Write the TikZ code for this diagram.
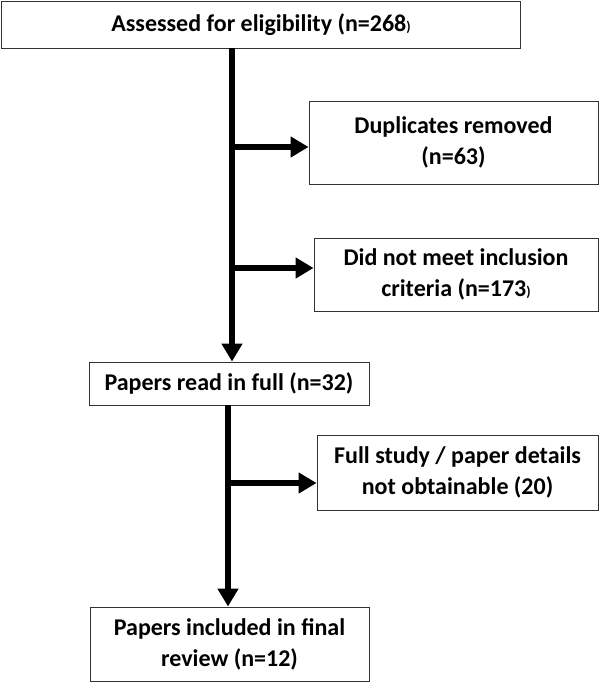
\documentclass[tikz,border=0pt]{standalone}
\usepackage{fontspec}
\setmainfont{Carlito}
\usetikzlibrary{arrows.meta}
\begin{document}
\begin{tikzpicture}[x=1pt, y=-1pt,
        box/.style={draw=black!80, line width=0.9pt, align=center, inner sep=0pt,
            font=\fontsize{24}{31}\selectfont\bfseries},
        arr/.style={line width=6pt, -{Triangle[length=18pt, width=20pt]}}]
    \useasboundingbox (0,0) rectangle (600,683);

    \node[box, minimum width=519pt, minimum height=47pt] at (261, 24.5)   (assessed) {Assessed for eligibility (n=268{\fontsize{14}{14}\selectfont)}};
    \node[box, minimum width=289pt, minimum height=83pt] at (453.5, 142.5) (dup)      {Duplicates removed\\(n=63)};
    \node[box, minimum width=284pt, minimum height=73pt] at (456, 274.5)  (criteria) {Did not meet inclusion\\criteria (n=173{\fontsize{14}{14}\selectfont)}};
    \node[box, minimum width=280pt, minimum height=43pt] at (229, 383.5)  (fullread) {Papers read in full (n=32)};
    \node[box, minimum width=281pt, minimum height=75pt] at (457.5, 472.5) (obtain)  {Full study / paper details\\not obtainable (20)};
    \node[box, minimum width=279pt, minimum height=74pt] at (229.5, 644)  (included) {Papers included in final\\review (n=12)};

    \coordinate (br1) at (232, 147);
    \coordinate (br2) at (232, 268);
    \coordinate (br3) at (228, 483);

    \draw[arr] (assessed.south -| br1) -- (fullread.north -| br1);
    \draw[arr] (br1) -- (br1 -| dup.west);
    \draw[arr] (br2) -- (br2 -| criteria.west);
    \draw[arr] (fullread.south -| br3) -- (included.north -| br3);
    \draw[arr] (br3) -- (br3 -| obtain.west);
\end{tikzpicture}
\end{document}
